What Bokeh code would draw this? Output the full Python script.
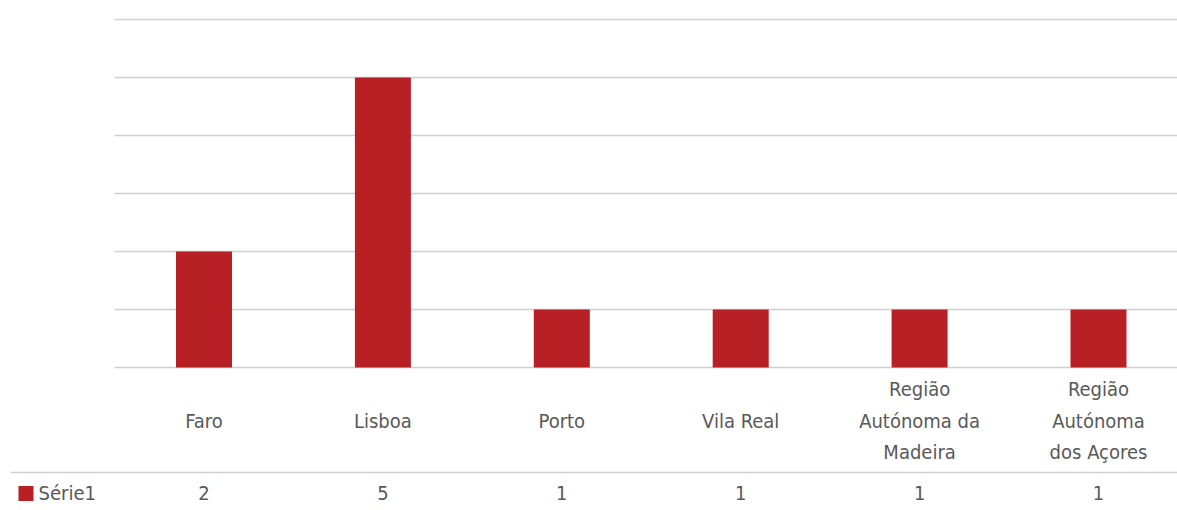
from bokeh.plotting import figure
from bokeh.models import ColumnDataSource
from bokeh.core.properties import value
from bokeh.embed import file_html
from bokeh.resources import INLINE

categories = ["Faro", "Lisboa", "Porto", "Vila Real",
              "Região\nAutónoma da\nMadeira", "Região\nAutónoma\ndos Açores"]
series_name = "Série1"
values = [2, 5, 1, 1, 1, 1]
y_ticks = [0, 1, 2, 3, 4, 5, 6]

BAR = "#B72025"
GRID = "#d0d0d0"
TXT = "#595959"
FONT = value("DejaVu Sans Condensed, sans-serif")
FS = "20px"

# 1 category unit = 178.9 px, 1 value unit = 58 px
p = figure(width=1177, height=510, x_range=(-1.1375, 5.4416), y_range=(-2.4655, 6.3276),
           output_backend="svg", toolbar_location=None, min_border=0,
           x_axis_type=None, y_axis_type=None)
p.outline_line_color = None
p.xgrid.visible = False
p.ygrid.visible = False

xs = list(range(len(categories)))

# grid lines
p.segment(x0=[-0.5] * len(y_ticks), x1=[6.0] * len(y_ticks), y0=y_ticks, y1=y_ticks,
          line_color=GRID, line_width=1.3)

# bars
src = ColumnDataSource(dict(x=xs, top=values, label=categories,
                            vtxt=[str(v) for v in values]))
p.vbar(x="x", top="top", bottom=0, width=0.313, source=src,
       fill_color=BAR, line_color=None)

# category labels
p.text(x="x", y=-0.914, text="label", source=src, text_align="center",
       text_baseline="middle", text_font=FONT, text_font_size=FS,
       text_color=TXT, text_line_height=1.32)

# data table line
p.segment(x0=[-1.082], x1=[6.0], y0=[-1.81], y1=[-1.81], line_color=GRID, line_width=1.3)

# legend key + series name
p.scatter(x=[-0.995], y=[-2.172], marker="square", size=15, fill_color=BAR, line_color=None)
p.text(x=[-0.925], y=[-2.172], text=[series_name], text_align="left",
       text_baseline="middle", text_font=FONT, text_font_size=FS, text_color=TXT)

# values row
p.text(x="x", y=-2.172, text="vtxt", source=src, text_align="center",
       text_baseline="middle", text_font=FONT, text_font_size=FS, text_color=TXT)

open("out.html", "w").write(file_html(p, INLINE))
